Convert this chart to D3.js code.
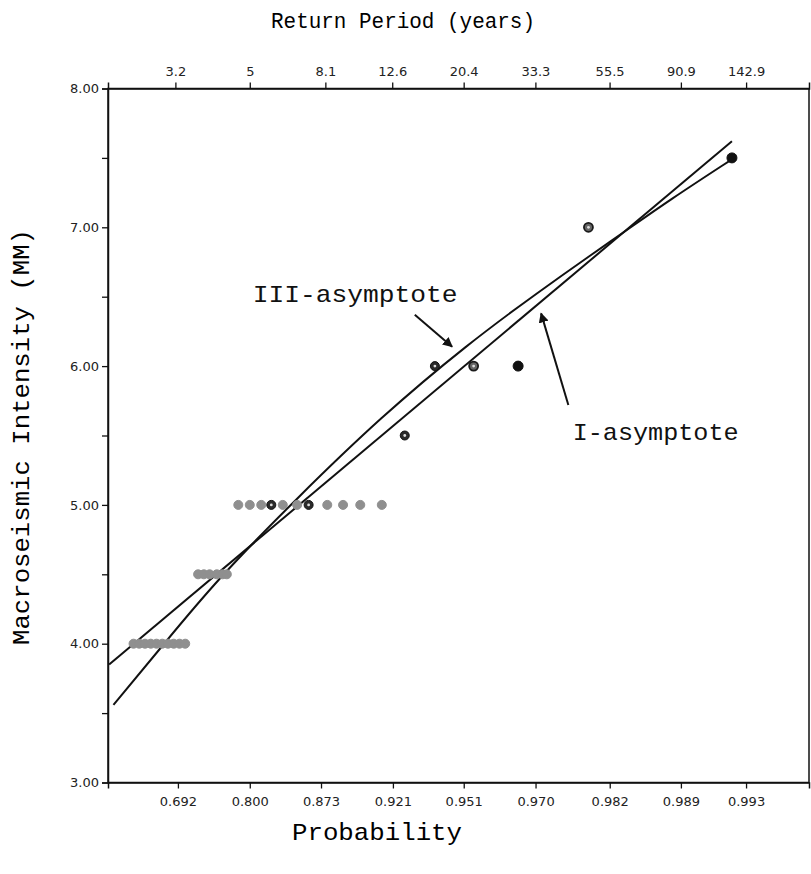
<!DOCTYPE html>
<html>
<head>
<meta charset="utf-8">
<script src="https://cdn.jsdelivr.net/npm/d3@7"></script>
<style>
  body { margin: 0; background: #fff; }
</style>
</head>
<body>
<div id="chart"></div>
<script>
// Gumbel probability plot of macroseismic intensities
// x axis is the Gumbel reduced variate u = -ln(-ln(p))

// tick labels
var probTicks = ["0.692", "0.800", "0.873", "0.921", "0.951", "0.970", "0.982", "0.989", "0.993"];
var periodTicks = ["3.2", "5", "8.1", "12.6", "20.4", "33.3", "55.5", "90.9", "142.9"];
var intensityTicks = [3, 3.5, 4, 4.5, 5, 5.5, 6, 6.5, 7, 7.5, 8];

var obsU = [0.69, 0.73, 0.77, 0.81, 0.85, 0.89, 0.93, 0.97, 1.01, 1.05,
            1.14, 1.18, 1.22, 1.27, 1.31, 1.34,
            1.42, 1.50, 1.58, 1.65, 1.73, 1.83, 1.91, 2.04, 2.15, 2.27, 2.42,
            2.58, 2.79, 3.06, 3.37, 3.86, 4.86];
var obsMM = [4, 4, 4, 4, 4, 4, 4, 4, 4, 4,
             4.5, 4.5, 4.5, 4.5, 4.5, 4.5,
             5, 5, 5, 5, 5, 5, 5, 5, 5, 5, 5,
             5.5, 6, 6, 6, 7, 7.5];
var obsKind = ["g", "g", "g", "g", "g", "g", "g", "g", "g", "g",
               "g", "g", "g", "g", "g", "g",
               "g", "g", "g", "r", "g", "g", "r", "g", "g", "g", "g",
               "r", "r", "o", "b", "o", "b"];

// fitted distributions
var typeIU = [0.52, 4.86];
var typeIMM = [3.85, 7.62];
var typeIIIU = [0.55, 0.88, 1.27, 1.83, 2.41, 3.02, 3.52, 3.89, 4.10, 4.43, 4.86];
var typeIIIMM = [3.56, 3.97, 4.46, 5.05, 5.63, 6.16, 6.54, 6.81, 6.96, 7.20, 7.49];

function gumbel(p) { return -Math.log(-Math.log(p)); }

var svgWidth = 811;
var svgHeight = 874;

var svg = d3.select("#chart")
  .append("svg")
  .attr("width", svgWidth)
  .attr("height", svgHeight);

var xScale = d3.scaleLinear()
  .domain([0.512, 5.397])
  .range([108, 809]);

var yScale = d3.scaleLinear()
  .domain([3, 8])
  .range([782.5, 88.5]);

var monoFont = "'Liberation Mono', 'DejaVu Sans Mono', monospace";
var tickFont = "'DejaVu Sans', sans-serif";

// frame
svg.append("rect")
  .attr("x", xScale.range()[0])
  .attr("y", yScale.range()[1])
  .attr("width", xScale.range()[1] - xScale.range()[0])
  .attr("height", yScale.range()[0] - yScale.range()[1])
  .attr("fill", "none")
  .attr("stroke", "#111")
  .attr("stroke-width", 1.5);

// axes
var bottomAxis = d3.axisBottom(xScale)
  .tickValues(probTicks.map(p => gumbel(+p)))
  .tickFormat((d, i) => probTicks[i])
  .tickSize(6)
  .tickPadding(8);

var topAxis = d3.axisTop(xScale)
  .tickValues(periodTicks.map(t => gumbel(1 - 1 / +t)))
  .tickFormat((d, i) => periodTicks[i])
  .tickSize(6)
  .tickPadding(7);

var leftAxis = d3.axisLeft(yScale)
  .tickValues(intensityTicks)
  .tickFormat(d => Number.isInteger(d) ? d.toFixed(2) : "")
  .tickSize(6)
  .tickPadding(3);

svg.append("g")
  .attr("transform", `translate(0, ${yScale(3)})`)
  .call(bottomAxis);

svg.append("g")
  .attr("transform", `translate(0, ${yScale(8)})`)
  .call(topAxis);

svg.append("g")
  .attr("transform", `translate(${xScale.range()[0]}, 0)`)
  .call(leftAxis);

svg.selectAll(".domain").attr("stroke", "#111").attr("stroke-width", 1.5);
svg.selectAll(".tick line").attr("stroke", "#111").attr("stroke-width", 1.3);
svg.selectAll(".tick text")
  .attr("font-family", tickFont)
  .attr("font-size", 13)
  .attr("fill", "#222");

// axis titles
svg.append("text")
  .attr("x", 403)
  .attr("y", 28)
  .attr("text-anchor", "middle")
  .attr("font-family", monoFont)
  .attr("font-size", 22)
  .attr("textLength", 264)
  .attr("lengthAdjust", "spacingAndGlyphs")
  .text("Return Period (years)");

svg.append("text")
  .attr("x", 377)
  .attr("y", 840)
  .attr("text-anchor", "middle")
  .attr("font-family", monoFont)
  .attr("font-size", 24)
  .attr("textLength", 170)
  .attr("lengthAdjust", "spacingAndGlyphs")
  .text("Probability");

svg.append("text")
  .attr("transform", "translate(29, 437) rotate(-90)")
  .attr("text-anchor", "middle")
  .attr("font-family", monoFont)
  .attr("font-size", 24)
  .attr("textLength", 416)
  .attr("lengthAdjust", "spacingAndGlyphs")
  .text("Macroseismic Intensity (MM)");

// fitted lines
var line = d3.line()
  .x(d => xScale(d[0]))
  .y(d => yScale(d[1]));

svg.append("path")
  .datum(typeIU.map((u, i) => [u, typeIMM[i]]))
  .attr("d", line)
  .attr("fill", "none")
  .attr("stroke", "#111")
  .attr("stroke-width", 2);

svg.append("path")
  .datum(typeIIIU.map((u, i) => [u, typeIIIMM[i]]))
  .attr("d", line.curve(d3.curveBasis))
  .attr("fill", "none")
  .attr("stroke", "#111")
  .attr("stroke-width", 2);

// observed points
var obs = obsU.map((u, i) => ({ u: u, mm: obsMM[i], kind: obsKind[i] }));

var fillScale = d3.scaleOrdinal()
  .domain(["g", "r", "o", "b"])
  .range(["#8f8f8f", "#2a2a2a", "#666", "#111"]);
var strokeScale = d3.scaleOrdinal()
  .domain(["g", "r", "o", "b"])
  .range(["#8f8f8f", "#111", "#1a1a1a", "#111"]);

svg.append("g").selectAll("circle")
  .data(obs)
  .enter()
  .append("circle")
  .attr("cx", d => xScale(d.u))
  .attr("cy", d => yScale(d.mm))
  .attr("r", d => d.kind === "b" ? 5 : 4.5)
  .attr("fill", d => fillScale(d.kind))
  .attr("stroke", d => strokeScale(d.kind))
  .attr("stroke-width", d => d.kind === "o" ? 1.8 : 1);

// small light centre on the ringed symbols
svg.append("g").selectAll("circle")
  .data(obs.filter(d => d.kind === "r" || d.kind === "o"))
  .enter()
  .append("circle")
  .attr("cx", d => xScale(d.u))
  .attr("cy", d => yScale(d.mm))
  .attr("r", 1.4)
  .attr("fill", "#ddd");

// annotations
svg.append("defs").append("marker")
  .attr("id", "head")
  .attr("viewBox", "0 0 10 10")
  .attr("refX", 9)
  .attr("refY", 5)
  .attr("markerWidth", 10)
  .attr("markerHeight", 10)
  .attr("markerUnits", "userSpaceOnUse")
  .attr("orient", "auto")
  .append("path")
  .attr("d", "M0,0 L10,5 L0,10 z")
  .attr("fill", "#111");

var notes = [
  { text: "III-asymptote", tu: 1.52, tmm: 6.46, len: 205, a: [2.65, 6.37], b: [2.91, 6.14] },
  { text: "I-asymptote", tu: 3.75, tmm: 5.47, len: 166, a: [3.72, 5.72], b: [3.53, 6.38] }
];

notes.forEach(function(n) {
  svg.append("text")
    .attr("x", xScale(n.tu))
    .attr("y", yScale(n.tmm))
    .attr("font-family", monoFont)
    .attr("font-size", 24)
    .attr("textLength", n.len)
    .attr("lengthAdjust", "spacingAndGlyphs")
    .attr("fill", "#111")
    .text(n.text);

  svg.append("line")
    .attr("x1", xScale(n.a[0]))
    .attr("y1", yScale(n.a[1]))
    .attr("x2", xScale(n.b[0]))
    .attr("y2", yScale(n.b[1]))
    .attr("stroke", "#111")
    .attr("stroke-width", 2)
    .attr("marker-end", "url(#head)");
});
</script>
</body>
</html>
